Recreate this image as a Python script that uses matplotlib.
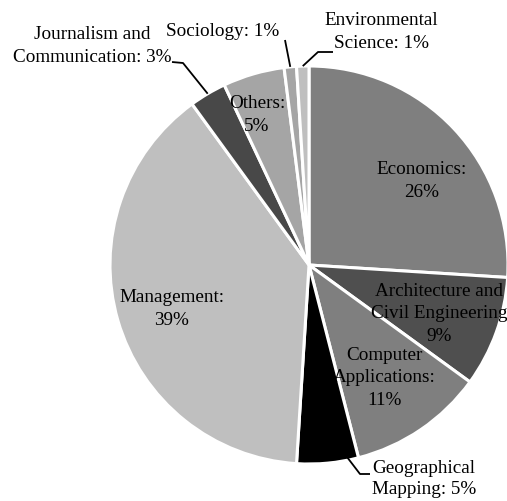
import numpy as np
import matplotlib
matplotlib.use("Agg")
import matplotlib.pyplot as plt

categories = ["Economics", "Architecture and\nCivil Engineering", "Computer\nApplications",
              "Geographical\nMapping", "Management", "Journalism and\nCommunication",
              "Others", "Sociology", "Environmental\nScience"]
values = [26, 9, 11, 5, 39, 3, 5, 1, 1]
colors = ["#7f7f7f", "#4f4f4f", "#7f7f7f", "#000000", "#bfbfbf",
          "#484848", "#a5a5a5", "#a5a5a5", "#bfbfbf"]

plt.rcParams['font.family'] = ['Liberation Serif', 'DejaVu Serif']
W, H = 507, 501
fig = plt.figure(figsize=(W / 100, H / 100), dpi=100)
cx, cy, R = 309, 265, 199
ax = fig.add_axes([(cx - 200) / W, (H - cy - 200) / H, 400 / W, 400 / H])

wedges, _ = ax.pie(values, colors=colors, startangle=90, counterclock=False,
                   radius=1, wedgeprops=dict(edgecolor="white", linewidth=2.2),
                   frame=False)
ax.set_xlim(-200 / R, 200 / R)
ax.set_ylim(-200 / R, 200 / R)
ax.set_aspect("auto")
ax.axis("off")


def d(px, py):
    return ((px - cx) / R, (cy - py) / R)


fs = 13.8
ls = 1.4
inside = {0: (422, 181), 1: (439, 314), 2: (384, 378), 4: (172, 309), 6: (257, 115)}
for i, (px, py) in inside.items():
    if i == 1:
        txt = f"{categories[i]}\n{values[i]}%"
    else:
        txt = f"{categories[i]}:\n{values[i]}%"
    x, y = d(px, py)
    ax.text(x, y, txt, ha="center", va="center", fontsize=fs, linespacing=ls,
            clip_on=False)


def mid_point(i, r=1.0):
    th = np.deg2rad((wedges[i].theta1 + wedges[i].theta2) / 2)
    return r * np.cos(th), r * np.sin(th)


# outside labels: text center, elbow, end near text (pixel positions)
outside = {
    3: dict(text=(424, 479), elbow=(360, 474), end=(370, 474), frac=0.82, ls=1.25),
    5: dict(text=(92, 46), elbow=(183, 63), end=(172, 62), frac=1.0, ls=ls),
    7: dict(text=(223, 32), elbow=None, end=(285, 40), frac=1.0, ls=ls),
    8: dict(text=(381, 32), elbow=(318, 52), end=(333, 52), frac=1.0, ls=ls),
}
for i, o in outside.items():
    txt = f"{categories[i]}: {values[i]}%"
    x, y = d(*o["text"])
    ax.text(x, y, txt, ha="center", va="center", fontsize=fs, linespacing=o["ls"],
            clip_on=False)
    sx, sy = mid_point(i, o["frac"])
    pts = [(sx, sy)]
    if o["elbow"] is not None:
        pts.append(d(*o["elbow"]))
    pts.append(d(*o["end"]))
    xs, ys = zip(*pts)
    ax.plot(xs, ys, color="black", lw=1.3, clip_on=False, solid_capstyle="butt")

fig.savefig("out.png", dpi=100)
